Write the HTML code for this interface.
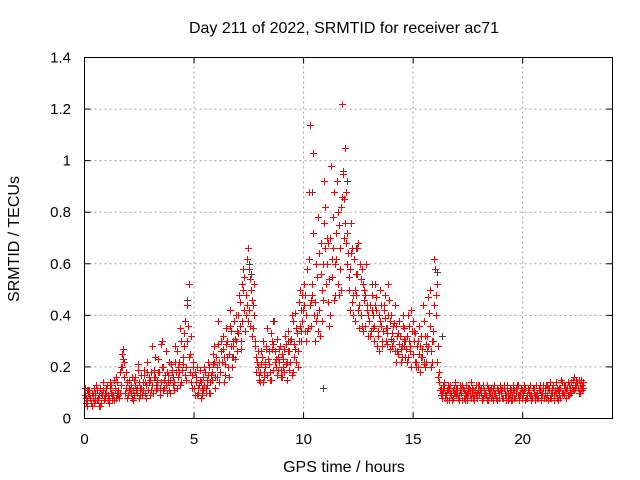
<!DOCTYPE html>
<html><head><meta charset="utf-8"><style>
body{margin:0;background:#fff}
svg{display:block;font-family:"Liberation Sans",sans-serif}
</style></head><body>
<svg id="chart" width="640" height="480" viewBox="0 0 640 480">
<rect width="640" height="480" fill="#fff"/>
<g id="grid"></g>
<g id="marks"></g>
<rect x="84.5" y="57.5" width="528" height="361" fill="none" stroke="#000"/>
<g id="axes"></g>
<text x="344" y="33" font-size="16" text-anchor="middle">Day 211 of 2022, SRMTID for receiver ac71</text>
<text x="344" y="472" font-size="16" text-anchor="middle">GPS time / hours</text>
<text transform="translate(19,239) rotate(-90)" font-size="16" text-anchor="middle">SRMTID / TECUs</text>
</svg>
<script>
const xTicks=[0,5,10,15,20];
const yTicks=[0,0.2,0.4,0.6,0.8,1,1.2,1.4];
const yTickLabels=["0","0.2","0.4","0.6","0.8","1","1.2","1.4"];
const step=0.1;
const redA=[0.09,0.07,0.11,0.06,0.08,0.10,0.07,0.12,0.09,0.08,
0.10,0.08,0.13,0.09,0.11,0.14,0.10,0.25,0.22,0.12,
0.09,0.13,0.11,0.16,0.10,0.14,0.12,0.17,0.13,0.11,
0.15,0.28,0.16,0.12,0.18,0.14,0.20,0.13,0.17,0.15,
0.19,0.14,0.26,0.18,0.30,0.21,0.38,0.44,0.25,0.17,
0.12,0.16,0.10,0.14,0.11,0.18,0.13,0.20,0.15,0.22,
0.24,0.38,0.18,0.27,0.21,0.30,0.25,0.34,0.28,0.40,
0.33,0.45,0.38,0.55,0.62,0.42,0.50,0.35,0.28,0.20,
0.18,0.24,0.16,0.28,0.21,0.33,0.19,0.26,0.31,0.22,
0.25,0.18,0.29,0.34,0.22,0.38,0.27,0.33,0.45,0.30,
0.52,0.40,0.35,1.14,0.48,0.30,0.55,0.42,0.68,0.60,
0.82,0.45,0.70,0.55,0.88,0.62,0.75,0.50,0.95,1.05,
0.72,0.58,0.45,0.62,0.48,0.68,0.40,0.52,0.36,0.44,
0.38,0.48,0.30,0.42,0.34,0.50,0.28,0.39,0.33,0.46,
0.40,0.30,0.36,0.25,0.32,0.28,0.35,0.22,0.30,0.42,
0.25,0.33,0.20,0.28,0.24,0.38,0.22,0.47,0.26,0.30,
0.58,0.22,0.14,0.10,0.12,0.09,0.11,0.13,0.08,0.10,
0.12,0.09,0.11,0.08,0.13,0.10,0.09,0.12,0.07,0.10,
0.09,0.12,0.08,0.10,0.07,0.11,0.09,0.13,0.08,0.10,
0.11,0.08,0.10,0.12,0.09,0.07,0.11,0.10,0.13,0.09,
0.10,0.12,0.08,0.11,0.09,0.10,0.13,0.08,0.11,0.09,
0.12,0.09,0.11,0.08,0.13,0.10,0.07,0.12,0.14,0.09,
0.11,0.13,0.10,0.15,0.12,0.14,0.13,0.11];
const redB=[0.06,0.10,0.08,0.05,0.12,0.07,0.09,0.06,0.11,0.08,
0.07,0.12,0.09,0.15,0.08,0.11,0.20,0.27,0.10,0.14,
0.12,0.08,0.15,0.11,0.19,0.09,0.14,0.10,0.22,0.16,
0.11,0.19,0.13,0.23,0.12,0.30,0.15,0.18,0.11,0.21,
0.13,0.22,0.16,0.35,0.19,0.28,0.15,0.52,0.32,0.20,
0.18,0.09,0.15,0.12,0.20,0.10,0.17,0.14,0.25,0.12,
0.16,0.22,0.30,0.14,0.35,0.20,0.42,0.24,0.31,0.26,
0.48,0.30,0.58,0.40,0.66,0.36,0.46,0.52,0.24,0.15,
0.26,0.14,0.22,0.35,0.18,0.27,0.38,0.20,0.24,0.16,
0.20,0.32,0.15,0.26,0.40,0.24,0.35,0.20,0.50,0.38,
0.34,0.58,0.88,0.46,1.03,0.38,0.78,0.32,0.50,0.92,
0.60,0.36,0.98,0.66,0.48,0.80,0.58,1.22,0.85,0.68,
0.55,0.76,0.40,0.50,0.66,0.35,0.58,0.46,0.60,0.32,
0.44,0.35,0.52,0.28,0.40,0.36,0.44,0.30,0.52,0.27,
0.33,0.44,0.26,0.38,0.22,0.36,0.30,0.40,0.26,0.34,
0.30,0.20,0.36,0.24,0.44,0.20,0.32,0.50,0.22,0.62,
0.40,0.16,0.09,0.13,0.08,0.11,0.07,0.10,0.12,0.09,
0.08,0.11,0.13,0.07,0.10,0.12,0.08,0.11,0.09,0.13,
0.11,0.07,0.10,0.13,0.09,0.08,0.12,0.10,0.07,0.11,
0.08,0.12,0.09,0.07,0.11,0.13,0.08,0.12,0.09,0.11,
0.13,0.08,0.11,0.09,0.12,0.07,0.10,0.12,0.09,0.13,
0.08,0.12,0.14,0.10,0.07,0.12,0.09,0.15,0.10,0.12,
0.14,0.10,0.12,0.16,0.13,0.15,0.12,0.14];
const redC=[0.12,0.05,0.09,0.10,0.06,0.13,0.08,0.05,0.14,0.10,
0.13,0.06,0.10,0.07,0.16,0.09,0.18,0.20,0.16,0.08,
0.15,0.10,0.07,0.13,0.21,0.12,0.09,0.19,0.08,0.14,
0.18,0.10,0.24,0.15,0.09,0.20,0.12,0.26,0.14,0.10,
0.16,0.28,0.12,0.22,0.14,0.33,0.20,0.36,0.18,0.12,
0.09,0.20,0.13,0.08,0.16,0.12,0.22,0.10,0.18,0.28,
0.20,0.14,0.26,0.32,0.17,0.24,0.36,0.20,0.38,0.30,
0.40,0.27,0.50,0.34,0.44,0.58,0.32,0.40,0.18,0.26,
0.14,0.30,0.20,0.17,0.26,0.15,0.29,0.23,0.19,0.28,
0.16,0.27,0.22,0.19,0.31,0.18,0.41,0.26,0.36,0.48,
0.44,0.30,0.62,0.36,0.72,0.45,0.40,0.64,0.38,0.76,
0.52,0.68,0.40,0.78,0.60,0.92,0.48,0.82,0.70,0.88,
0.64,0.42,0.66,0.38,0.56,0.44,0.54,0.34,0.48,0.40,
0.32,0.42,0.36,0.47,0.26,0.44,0.34,0.48,0.29,0.38,
0.28,0.37,0.22,0.33,0.27,0.40,0.24,0.32,0.36,0.20,
0.34,0.22,0.30,0.18,0.27,0.32,0.26,0.41,0.20,0.34,
0.48,0.28,0.11,0.08,0.14,0.07,0.12,0.09,0.11,0.14,
0.10,0.13,0.07,0.11,0.09,0.12,0.14,0.08,0.11,0.08,
0.13,0.08,0.11,0.09,0.12,0.10,0.07,0.09,0.12,0.08,
0.10,0.13,0.07,0.10,0.12,0.09,0.08,0.13,0.07,0.12,
0.09,0.07,0.12,0.13,0.08,0.12,0.09,0.11,0.07,0.12,
0.10,0.13,0.08,0.12,0.09,0.14,0.11,0.08,0.10,0.13,
0.12,0.09,0.14,0.11,0.15,0.12,0.10,0.13];
const redD=[0.08,0.11,0.06,0.09,0.07,0.11,0.05,0.10,0.07,0.12,
0.09,0.14,0.07,0.12,0.10,0.08,0.13,0.23,0.18,0.09,
0.11,0.16,0.09,0.12,0.08,0.17,0.11,0.14,0.18,0.09,
0.13,0.16,0.11,0.18,0.29,0.11,0.17,0.10,0.22,0.18,
0.11,0.18,0.20,0.13,0.24,0.17,0.30,0.24,0.14,0.22,
0.14,0.12,0.19,0.09,0.13,0.15,0.10,0.17,0.21,0.16,
0.29,0.18,0.22,0.24,0.29,0.16,0.28,0.30,0.23,0.34,
0.36,0.52,0.42,0.48,0.38,0.54,0.44,0.30,0.22,0.17,
0.21,0.18,0.27,0.23,0.15,0.30,0.22,0.17,0.27,0.19,
0.23,0.21,0.26,0.30,0.17,0.29,0.22,0.30,0.34,0.42,
0.48,0.34,0.44,0.52,0.40,0.60,0.34,0.56,0.46,0.66,
0.70,0.54,0.62,0.46,0.72,0.52,0.66,0.86,0.76,0.60,
0.50,0.64,0.48,0.56,0.42,0.60,0.36,0.50,0.42,0.38,
0.34,0.40,0.44,0.32,0.38,0.30,0.42,0.35,0.40,0.31,
0.36,0.26,0.32,0.29,0.24,0.31,0.27,0.24,0.28,0.38,
0.22,0.28,0.25,0.32,0.21,0.29,0.28,0.36,0.30,0.44,
0.52,0.18,0.12,0.11,0.09,0.13,0.10,0.07,0.10,0.12,
0.07,0.10,0.12,0.10,0.07,0.11,0.10,0.09,0.13,0.11,
0.10,0.13,0.09,0.07,0.11,0.12,0.10,0.08,0.11,0.13,
0.12,0.09,0.13,0.08,0.07,0.11,0.12,0.09,0.10,0.08,
0.11,0.09,0.10,0.07,0.12,0.09,0.08,0.13,0.10,0.08,
0.13,0.07,0.10,0.13,0.11,0.08,0.12,0.10,0.13,0.08,
0.09,0.12,0.11,0.13,0.14,0.10,0.15,0.12];
const blackT=[0.1,1.5,3.3,4.7,6.8,7.5,7.6,8.6,9.3,9.9,10.4,10.9,11.3,11.8,12.0,12.4,13.1,13.8,14.6,15.5,16.1,16.3,18.5,21.2];
const blackV=[0.11,0.09,0.14,0.46,0.24,0.60,0.56,0.38,0.30,0.42,0.88,0.12,0.55,0.96,0.92,0.66,0.52,0.35,0.28,0.22,0.57,0.32,0.10,0.12];
const X0=84.5,X1=612.5,Y0=418.5,Y1=57.5,XMAX=24.1,YMAX=1.4;
const sx=v=>X0+(X1-X0)*v/XMAX, sy=v=>Y0-(Y0-Y1)*v/YMAX;
const NS="http://www.w3.org/2000/svg";
const grid=document.getElementById('grid'),axes=document.getElementById('axes'),marks=document.getElementById('marks');
function mk(t,a,p){const e=document.createElementNS(NS,t);for(const k in a)e.setAttribute(k,a[k]);p.appendChild(e);return e;}
xTicks.forEach(t=>{
 const x=sx(t);
 if(t>0){const g=mk('line',{x1:x,x2:x,y1:Y0,y2:Y1,stroke:'#a0a0a0','stroke-dasharray':'2,3'},grid);
 
 }
 mk('line',{x1:x,x2:x,y1:Y0,y2:Y0-6,stroke:'#000'},axes);
 mk('line',{x1:x,x2:x,y1:Y1,y2:Y1+6,stroke:'#000'},axes);
 const l=mk('text',{x:x,y:444,'font-size':15,'text-anchor':'middle'},axes);l.textContent=t;
 
 
});
yTicks.forEach((t,i)=>{
 const y=sy(t);
 if(t>0&&t<YMAX){const g=mk('line',{x1:X0,x2:X1,y1:y,y2:y,stroke:'#a0a0a0','stroke-dasharray':'2,3'},grid);
 
 }
 mk('line',{x1:X0,x2:X0+6,y1:y,y2:y,stroke:'#000'},axes);
 mk('line',{x1:X1,x2:X1-6,y1:y,y2:y,stroke:'#000'},axes);
 const l=mk('text',{x:71,y:y+5,'font-size':15,'text-anchor':'end'},axes);l.textContent=yTickLabels[i];
 
 
});
function plus(t,v,c,name){
 const x=Math.round(sx(t))+0.5,y=Math.round(sy(v))+0.5;
 const p=mk('path',{d:`M${x-3.5} ${y}h7M${x} ${y-3.5}v7`,stroke:c,'stroke-width':1,fill:'none'},marks);
 
 
}
blackT.forEach((t,i)=>plus(t,blackV[i],'#404040','point-black'));
redA.forEach((v,i)=>plus(i*step,v,'#ff0000','point-red'));
redB.forEach((v,i)=>plus(i*step+step/2,v,'#ff0000','point-red'));
redC.forEach((v,i)=>plus(i*step+step/4,v,'#ff0000','point-red'));
redD.forEach((v,i)=>plus(i*step+3*step/4,v,'#ff0000','point-red'));
</script>
</body></html>
